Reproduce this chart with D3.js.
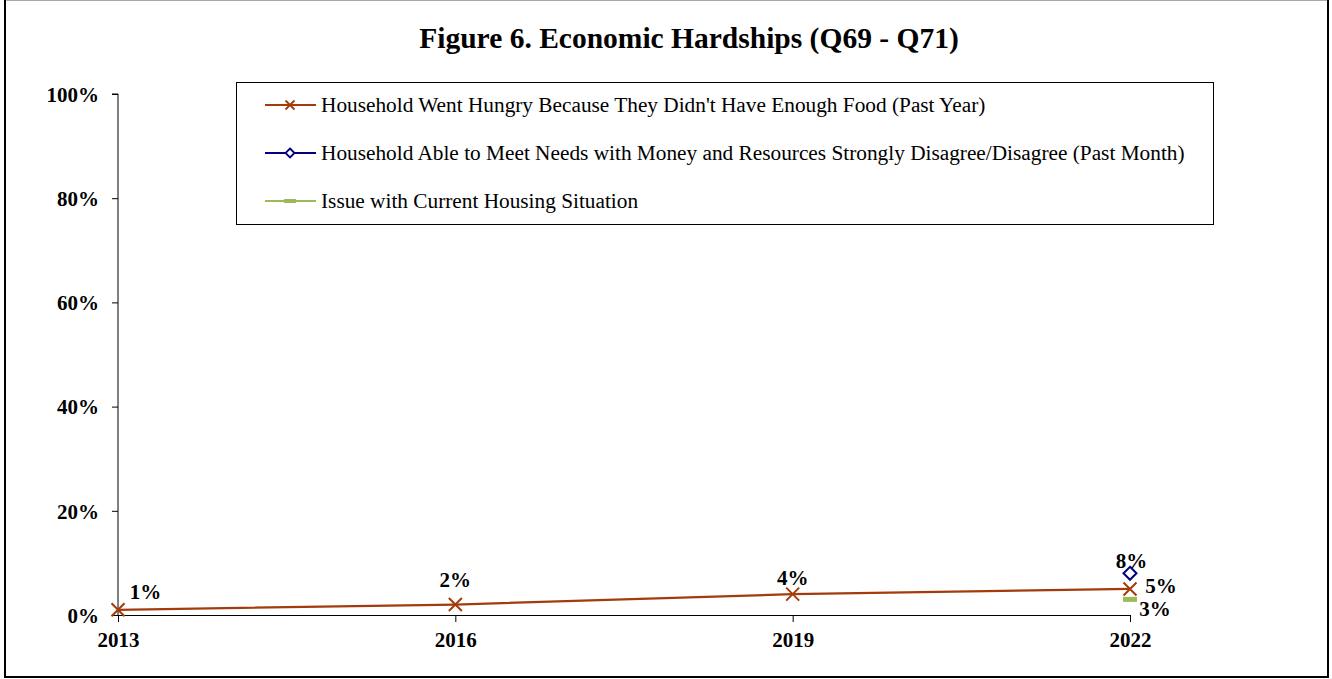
<!DOCTYPE html>
<html>
<head>
<meta charset="utf-8">
<script src="https://cdn.jsdelivr.net/npm/d3@7"></script>
<style>
  html, body { margin: 0; padding: 0; background: #fff; }
  svg { display: block; }
  text { font-family: "Liberation Serif", "Times New Roman", serif; }
</style>
</head>
<body>
<svg id="chart" width="1332" height="679"></svg>
<script>
// Survey years on the x axis
const years = ["2013", "2016", "2019", "2022"];
// Percent of households, by series (null = not asked that year)
const wentHungry = [1, 2, 4, 5];
const unableToMeetNeeds = [null, null, null, 8];
const housingIssue = [null, null, null, 3];
const yTicks = [0, 20, 40, 60, 80, 100];

const seriesNames = [
  "Household Went Hungry Because They Didn't Have Enough Food (Past Year)",
  "Household Able to Meet Needs with Money and Resources Strongly Disagree/Disagree (Past Month)",
  "Issue with Current Housing Situation"
];

const series = [
  { name: seriesNames[0], values: wentHungry, color: "#a33b0c", marker: "x" },
  { name: seriesNames[1], values: unableToMeetNeeds, color: "#000080", marker: "diamond" },
  { name: seriesNames[2], values: housingIssue, color: "#9bbb59", marker: "dash" }
];

const svg = d3.select("#chart");

// outer frame
svg.append("line").attr("x1", 4).attr("x2", 1328).attr("y1", 0.5).attr("y2", 0.5).attr("stroke", "#aaa");
svg.append("path").attr("d", "M5,0 V677 H1328 V0").attr("fill", "none").attr("stroke", "#000").attr("stroke-width", 2);

const plotLeft = 118, plotRight = 1130, plotTop = 94, plotBottom = 615;
const x = d3.scalePoint().domain(years).range([plotLeft, plotRight]);
const y = d3.scaleLinear().domain([0, 100]).range([plotBottom, plotTop]);

// title
svg.append("text").attr("x", 689).attr("y", 48).attr("text-anchor", "middle")
  .attr("font-size", 29.5).attr("font-weight", "bold").text("Figure 6. Economic Hardships (Q69 - Q71)");

// y axis
const yAxis = d3.axisLeft(y).tickValues(yTicks).tickSize(6).tickFormat(d => d + "%");
const gy = svg.append("g").attr("transform", `translate(${plotLeft},0)`).call(yAxis);
gy.select(".domain").attr("stroke", "#000").attr("d", `M-6,${plotTop}H0V${plotBottom}`);
gy.selectAll(".tick line").attr("stroke", "#000");
gy.selectAll(".tick text").attr("x", -19).attr("dy", "0.35em")
  .attr("font-size", 21).attr("font-weight", "bold").attr("font-family", "Liberation Serif, serif").attr("fill", "#000");

// x axis
const xAxis = d3.axisBottom(x).tickSize(7).tickSizeOuter(0);
const gx = svg.append("g").attr("transform", `translate(0,${plotBottom})`).call(xAxis);
gx.select(".domain").attr("stroke", "#000");
gx.selectAll(".tick line").attr("stroke", "#000");
gx.selectAll(".tick text").attr("y", 32).attr("dy", "0")
  .attr("font-size", 21).attr("font-weight", "bold").attr("font-family", "Liberation Serif, serif").attr("fill", "#000");

function drawMarker(g, type, color, cx, cy) {
  if (type === "x") {
    const s = 6.5;
    g.append("path").attr("d", `M${cx - s},${cy - s}L${cx + s},${cy + s}M${cx - s},${cy + s}L${cx + s},${cy - s}`)
      .attr("stroke", color).attr("stroke-width", 2).attr("fill", "none");
  } else if (type === "diamond") {
    const s = 6.5;
    g.append("path").attr("d", `M${cx},${cy - s}L${cx + s},${cy}L${cx},${cy + s}L${cx - s},${cy}Z`)
      .attr("stroke", color).attr("stroke-width", 2).attr("fill", "#fff");
  } else {
    g.append("rect").attr("x", cx - 7).attr("y", cy - 2.5).attr("width", 14).attr("height", 5).attr("fill", color);
  }
}

// lines and markers
const line = d3.line().defined(d => d.v != null).x(d => x(d.year)).y(d => y(d.v));
series.forEach(s => {
  const pts = years.map((yr, i) => ({ year: yr, v: s.values[i] }));
  svg.append("path").datum(pts).attr("d", line).attr("fill", "none")
    .attr("stroke", s.color).attr("stroke-width", 2.2);
  const g = svg.append("g");
  pts.filter(p => p.v != null).forEach(p => drawMarker(g, s.marker, s.color, x(p.year), y(p.v)));
});

// data labels
const labelStyle = sel => sel.attr("font-size", 21).attr("font-weight", "bold").attr("fill", "#000");
function label(xv, yv, dx, dy) {
  svg.append("text").attr("x", x(xv) + dx).attr("y", y(yv) + dy).attr("text-anchor", "middle")
    .call(labelStyle).text(yv + "%");
}
label("2013", wentHungry[0], 27.5, -11);
label("2016", wentHungry[1], 0, -17.5);
label("2019", wentHungry[2], 0, -9);
label("2022", wentHungry[3], 31, 4.5);
label("2022", unableToMeetNeeds[3], 1.5, -5);
label("2022", housingIssue[3], 25, 16.5);

// legend
const lg = svg.append("g");
lg.append("rect").attr("x", 236.5).attr("y", 82.5).attr("width", 977).attr("height", 142)
  .attr("fill", "#fff").attr("stroke", "#000").attr("stroke-width", 1);
const legendY = [105, 153, 201];
series.forEach((s, i) => {
  const ly = legendY[i];
  lg.append("line").attr("x1", 265).attr("x2", 316).attr("y1", ly).attr("y2", ly)
    .attr("stroke", s.color).attr("stroke-width", 2);
  if (s.marker === "x") {
    const c = 290, r = 4.5;
    lg.append("path").attr("d", `M${c - r},${ly - r}L${c + r},${ly + r}M${c - r},${ly + r}L${c + r},${ly - r}`)
      .attr("stroke", s.color).attr("stroke-width", 1.8);
  } else if (s.marker === "diamond") {
    const c = 290, r = 4.5;
    lg.append("path").attr("d", `M${c},${ly - r}L${c + r},${ly}L${c},${ly + r}L${c - r},${ly}Z`)
      .attr("stroke", s.color).attr("stroke-width", 1.8).attr("fill", "#fff");
  } else {
    lg.append("rect").attr("x", 284).attr("y", ly - 2).attr("width", 12).attr("height", 4).attr("fill", s.color);
  }
  lg.append("text").attr("x", 321).attr("y", ly).attr("dy", "0.35em")
    .attr("font-size", 21.3).attr("fill", "#000").text(s.name);
});
</script>
</body>
</html>
